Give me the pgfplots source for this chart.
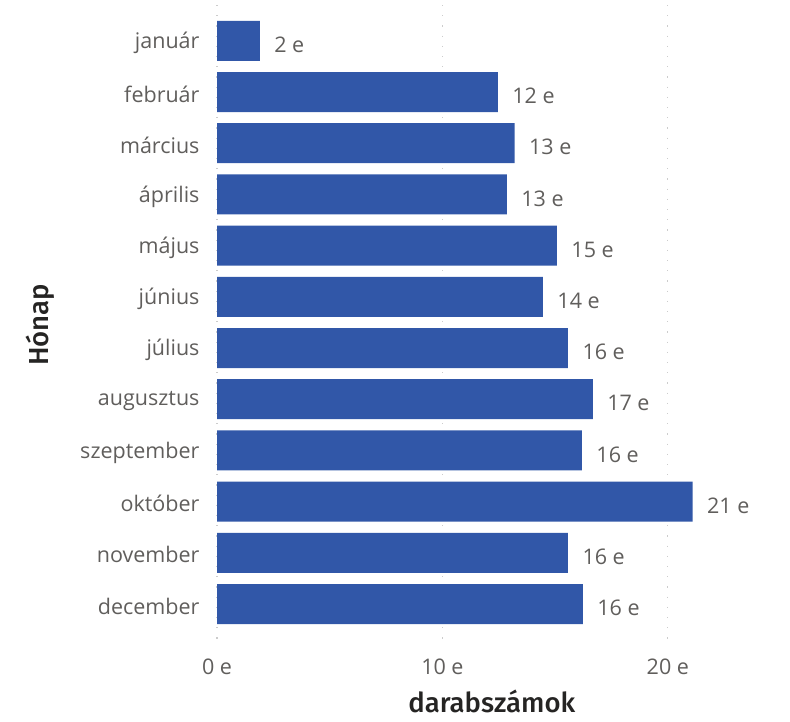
\documentclass[border=0pt]{standalone}
\usepackage{pgfplots}
\pgfplotsset{compat=1.18}
\usepackage{pgfplotstable}
\usepackage{fontspec}
\setmainfont{Open Sans}
\newfontfamily\titlefont{Fira Sans}[UprightFont={* Medium}]
\definecolor{barblue}{HTML}{3157A8}
\definecolor{txtgray}{HTML}{605E5C}
\definecolor{ttl}{HTML}{252423}
\pgfplotstableread{
y x label
0 1.9 {2 e}
1 12.46 {12 e}
2 13.2 {13 e}
3 12.86 {13 e}
4 15.08 {15 e}
5 14.46 {14 e}
6 15.57 {16 e}
7 16.67 {17 e}
8 16.19 {16 e}
9 21.1 {21 e}
10 15.57 {16 e}
11 16.23 {16 e}
}\datatable
\begin{document}
\begin{tikzpicture}[x=1pt,y=1pt]
\useasboundingbox (0,0) rectangle (790,721);
\begin{axis}[
  at={(217pt,76pt)}, anchor=south west,
  scale only axis, width=541pt, height=640pt,
  xbar, bar width=40pt,
  xmin=0, xmax=24, ymin=-0.7, ymax=11.8,
  y dir=reverse,
  axis line style={draw=none},
  major tick length=0pt,
  xtick={0,10,20}, xticklabels={0 e,10 e,20 e},
  ytick={0,...,11},
  yticklabels={január,február,március,április,május,június,július,augusztus,szeptember,október,november,december},
  ticklabel style={font=\fontsize{21.5}{25}\selectfont, text=txtgray},
  xticklabel style={yshift=-10pt},
  yticklabel style={xshift=-14pt, yshift=-2pt},
  xmajorgrids, grid style={gray!40, line width=1.2pt, dash pattern=on 1.2pt off 9pt},
  xlabel={darabszámok}, ylabel={Hónap},
  label style={font=\titlefont\fontsize{27.5}{32}\selectfont, text=ttl, inner sep=0pt},
  xlabel style={at={(rel axis cs:0.508,-0.088)}, anchor=center},
  ylabel style={at={(rel axis cs:-0.327,0.5)}, anchor=center, rotate=0},
  nodes near coords, point meta=explicit symbolic,
  nodes near coords style={font=\fontsize{21.5}{25}\selectfont, text=txtgray, anchor=west, xshift=11pt, yshift=-4pt},
]
\addplot[fill=barblue, draw=none] table[x=x, y=y, meta=label] {\datatable};
\end{axis}
\end{tikzpicture}
\end{document}
